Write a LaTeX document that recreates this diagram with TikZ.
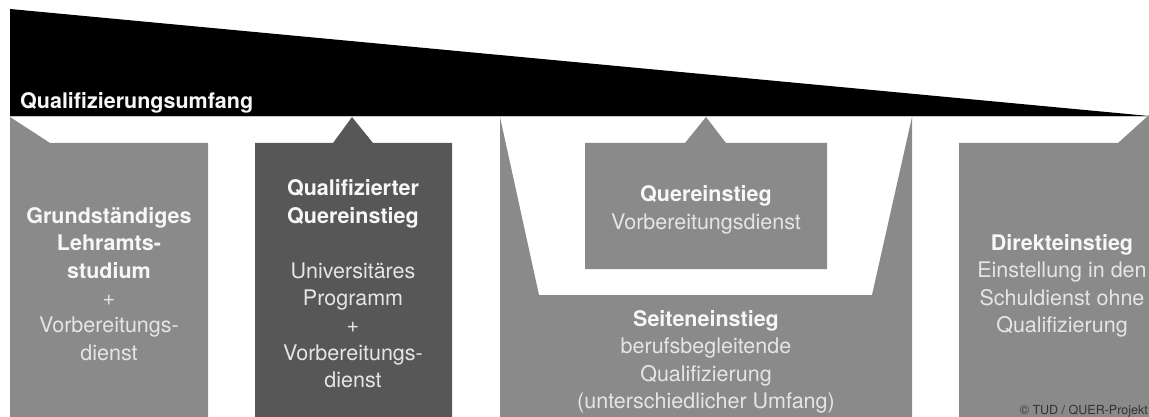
\documentclass[tikz,border=0pt]{standalone}
\usepackage{fontspec}
\setmainfont{TeX Gyre Heros}
\usepackage{tikz}
\usetikzlibrary{positioning}

\definecolor{panellight}{gray}{0.54}
\definecolor{paneldark}{gray}{0.34}
\definecolor{headtext}{gray}{0.97}
\definecolor{bodytext}{gray}{0.90}

\newcommand{\hd}[1]{\textcolor{headtext}{\bfseries #1}}

\begin{document}
\begin{tikzpicture}[
    x=1pt, y=-1pt,
    panel/.style={fill=panellight},
    paneldk/.style={fill=paneldark},
    boxtext/.style={align=center, text=bodytext, inner sep=0pt, font=\fontsize{21.5}{27.4}\selectfont}
]
\useasboundingbox (0,0) rectangle (1149,417);

% Scale wedge
\fill[black] (10,9) -- (1149,116) -- (10,116) -- cycle;
\draw[gray!45, line width=1pt] (10,116.5) -- (1149,116.5);
\node[anchor=base west, inner sep=0pt, text=headtext, font=\fontsize{21.5}{26}\selectfont\bfseries] (scale) at (20,109) {Qualifizierungsumfang};

% Panels
\fill[panel] (10,117) -- (50,143) -- (208,143) -- (208,417) -- (10,417) -- cycle;
\fill[paneldk] (255,143) -- (333,143) -- (352,117) -- (373,143) -- (452,143) -- (452,417) -- (255,417) -- cycle;
\fill[panel] (500,117) -- (539,295) -- (872,295) -- (912,117) -- (912,417) -- (500,417) -- cycle;
\fill[panel] (585,143) -- (685,143) -- (706,117) -- (726,143) -- (827,143) -- (827,269) -- (585,269) -- cycle;
\fill[panel] (959,143) -- (1118,143) -- (1149,115) -- (1149,417) -- (959,417) -- cycle;

% Texts
\node[boxtext] (grund) at (109,284) {\hd{Grundständiges}\\\hd{Lehramts-}\\\hd{studium}\\+\\Vorbereitungs-\\dienst};
\node[boxtext] (quali) at (353,284) {\hd{Qualifizierter}\\\hd{Quereinstieg}\\[27.4pt]Universitäres\\Programm\\+\\Vorbereitungs-\\dienst};
\node[boxtext] (quer) at (706,210) {\hd{Quereinstieg}\\Vorbereitungsdienst};
\node[boxtext] (seite) at (706,362) {\hd{Seiteneinstieg}\\berufsbegleitende\\Qualifizierung\\(unterschiedlicher Umfang)};
\node[boxtext] (direkt) at (1062,286) {\hd{Direkteinstieg}\\Einstellung in den\\Schuldienst ohne\\Qualifizierung};

\node[anchor=base east, inner sep=0pt, text=black!80, font=\fontsize{12.5}{14}\selectfont] (credit) at (1148,414) {© TUD / QUER-Projekt};

\end{tikzpicture}
\end{document}
